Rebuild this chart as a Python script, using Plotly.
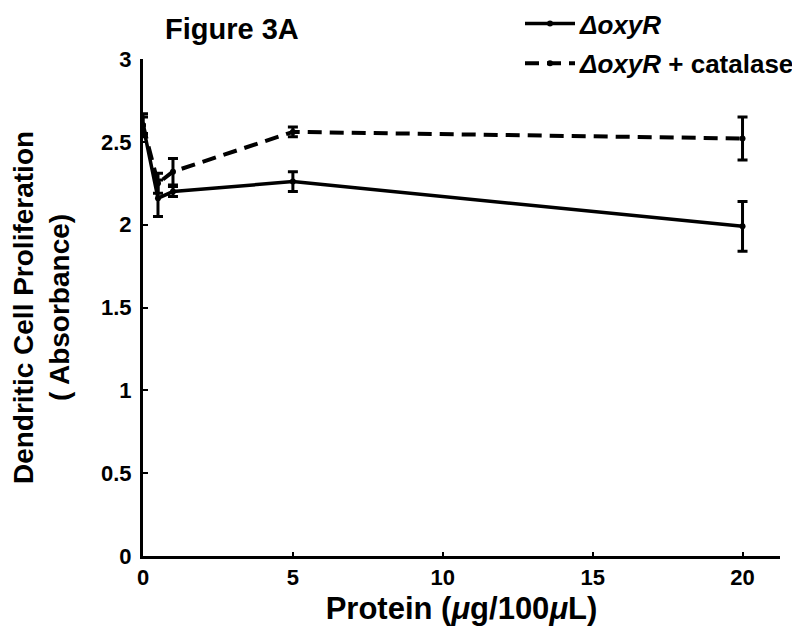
import plotly.graph_objects as go

protein = [0, 0.5, 1, 5, 20]
oxyr = [2.6, 2.16, 2.2, 2.26, 1.99]
oxyr_err = [0.07, 0.11, 0.03, 0.06, 0.15]
cat = [2.6, 2.25, 2.32, 2.56, 2.52]
cat_err = [0.05, 0.06, 0.08, 0.03, 0.13]

x_ticks = [0, 5, 10, 15, 20]
y_ticks = [0, 0.5, 1, 1.5, 2, 2.5, 3]
y_ticklabels = ["0", "0.5", "1", "1.5", "2", "2.5", "3"]

FONT = "Liberation Sans, Arial, Helvetica, sans-serif"
# page is drawn with an 8px body offset
OFF = 8
W, H = 800 - OFF, 643 - OFF
L, R, T, B = 143 - OFF, 20, 59 - OFF, 87
PW, PH = W - L - R, H - T - B


def px_x(page_x):
    return (page_x - OFF - L) / PW


def px_y(page_y):
    return (H - B - (page_y - OFF)) / PH


fig = go.Figure()
fig.add_trace(go.Scatter(
    x=protein, y=oxyr, name="<b><i>ΔoxyR</i></b>", mode="lines+markers",
    line=dict(color="black", width=3.5),
    marker=dict(color="black", size=6),
    error_y=dict(type="data", array=oxyr_err, color="black", thickness=3, width=5),
    legendgroup="a",
))
fig.add_trace(go.Scatter(
    x=protein, y=cat, name="<b><i>ΔoxyR</i> + catalase</b>", mode="lines+markers",
    line=dict(color="black", width=4, dash="14px,8px"),
    marker=dict(color="black", size=6),
    error_y=dict(type="data", array=cat_err, color="black", thickness=3, width=5),
    legendgroup="b",
))

fig.update_layout(
    width=W, height=H,
    margin=dict(l=L, r=R, t=T, b=B, autoexpand=False),
    paper_bgcolor="white", plot_bgcolor="white",
    font=dict(family=FONT, color="black"),
    showlegend=True,
    legend=dict(x=px_x(520), y=px_y(0), xanchor="left", yanchor="top",
                font=dict(size=26, family=FONT), bgcolor="rgba(0,0,0,0)",
                traceorder="grouped", tracegroupgap=3, itemwidth=50),
    xaxis=dict(range=[0, 21.25], tickvals=x_ticks, ticktext=[f"<b>{t}</b>" for t in x_ticks],
               showline=True, linecolor="black", linewidth=3, showgrid=False, zeroline=False,
               ticks="inside", ticklen=4, tickwidth=2, tickcolor="black", automargin=False,
               tickfont=dict(size=22, family=FONT),
               title=dict(text="<b>Protein (<i>μ</i>g/100<i>μ</i>L)</b>", font=dict(size=31, family=FONT), standoff=8)),
    yaxis=dict(range=[0, 3], tickvals=y_ticks, ticktext=[f"<b>{t}</b>" for t in y_ticklabels],
               showline=True, linecolor="black", linewidth=3, showgrid=False, zeroline=False,
               ticks="inside", ticklen=5, tickwidth=2, tickcolor="black", automargin=False,
               tickfont=dict(size=22, family=FONT), ticklabelstandoff=4,
               title=dict(text="<b>Dendritic Cell Proliferation<br>( Absorbance)</b>", font=dict(size=28, family=FONT), standoff=36)),
    annotations=[dict(text="<b>Figure 3A</b>", x=px_x(163), y=px_y(29),
                      xref="paper", yref="paper", xanchor="left", yanchor="middle",
                      showarrow=False, font=dict(size=29, family=FONT))],
)

fig.write_html("out.html")
